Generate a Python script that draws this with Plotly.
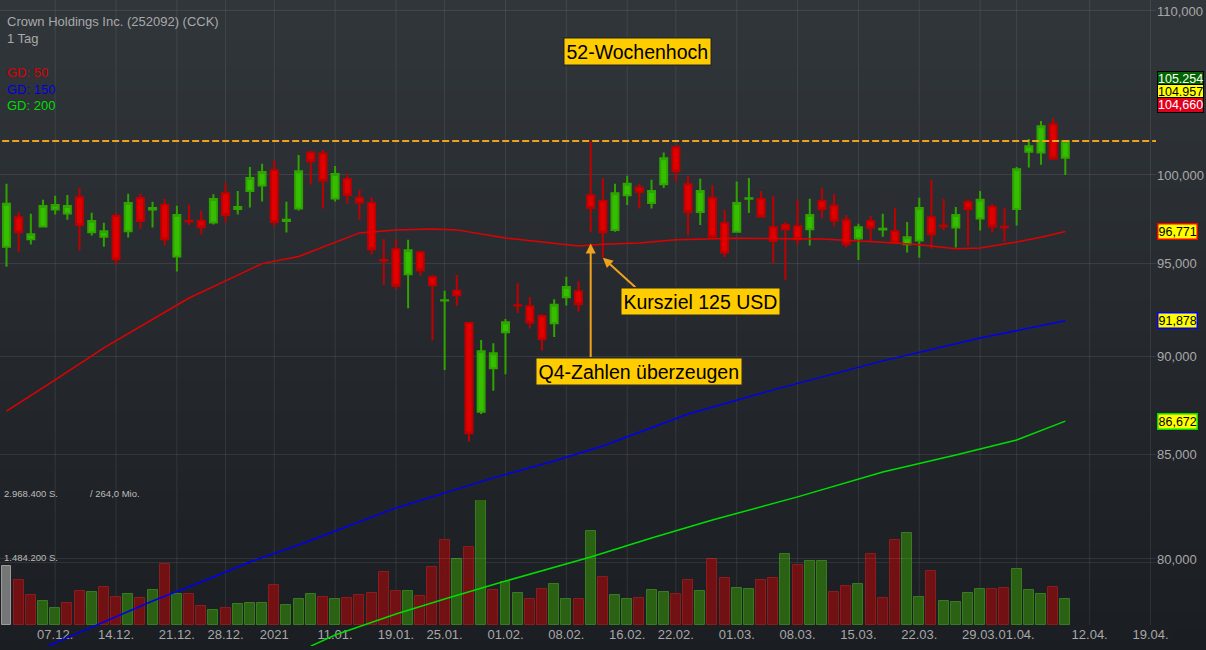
import math
import pandas as pd
import plotly.graph_objects as go

# ---------------- data ----------------
title_text = "Crown Holdings Inc. (252092) (CCK)"
interval_text = "1 Tag"
ma_labels = ["GD: 50", "GD: 150", "GD: 200"]

holidays = ["2020-12-25", "2021-01-01", "2021-01-18", "2021-02-15", "2021-04-02"]
trade_days = [d.strftime("%Y-%m-%d") for d in pd.bdate_range("2020-12-01", "2021-04-19")
              if d.strftime("%Y-%m-%d") not in holidays]

tick_dates = ["2020-12-07", "2020-12-14", "2020-12-21", "2020-12-28", "2021-01-04",
              "2021-01-11", "2021-01-19", "2021-01-25", "2021-02-01", "2021-02-08",
              "2021-02-16", "2021-02-22", "2021-03-01", "2021-03-08", "2021-03-15",
              "2021-03-22", "2021-03-29", "2021-04-01", "2021-04-12", "2021-04-19"]
tick_labels = ["07.12.", "14.12.", "21.12.", "28.12.", "2021", "11.01.", "19.01.", "25.01.",
               "01.02.", "08.02.", "16.02.", "22.02.", "01.03.", "08.03.", "15.03.", "22.03.",
               "29.03.", "01.04.", "12.04.", "19.04."]

price_ticks = [80, 85, 90, 95, 100, 110]

opens = [95.92, 97.58, 96.34, 97.05, 98.02, 97.79, 98.72, 96.73, 96.48, 97.64,
         96.79, 98.67, 98.02, 98.27, 95.37, 97.37, 97.37, 97.28, 98.95, 98.04,
         99.07, 99.39, 100.28, 97.36, 98.07, 101.32, 101.26, 98.64, 99.76, 98.67,
         98.38, 95.18, 95.78, 94.39, 95.61, 94.24, 92.96, 93.49, 91.76, 87.15,
         89.38, 91.27, 92.71, 92.66, 92.13, 91.75, 93.14, 93.47, 98.83, 98.50,
         96.86, 98.83, 99.27, 98.38, 99.47, 101.62, 99.47, 97.87, 98.67, 97.24,
         96.76, 98.63, 98.61, 97.01, 97.13, 97.07, 96.90, 98.50, 98.23, 97.41,
         96.37, 97.36, 96.88, 96.79, 96.06, 96.26, 97.58, 97.09, 96.99, 98.44,
         97.50, 98.15, 97.03, 98.04, 101.36, 101.32, 102.99, 101.00]
highs = [99.49, 97.89, 97.77, 98.57, 98.80, 98.85, 99.26, 97.83, 97.26, 97.81,
         98.91, 98.91, 98.46, 98.61, 98.23, 98.29, 97.94, 98.89, 99.53, 99.08,
         100.47, 100.65, 100.88, 98.46, 101.17, 101.40, 101.46, 100.53, 100.07, 99.14,
         98.72, 96.35, 96.35, 96.30, 95.68, 94.36, 93.49, 94.36, 91.81, 90.86,
         90.69, 91.97, 93.90, 93.15, 92.21, 93.03, 94.26, 94.01, 101.96, 99.82,
         99.49, 99.95, 99.49, 99.72, 101.32, 101.76, 99.95, 99.78, 99.41, 98.00,
         99.62, 99.82, 99.07, 98.80, 97.31, 98.57, 98.63, 99.26, 98.91, 97.70,
         97.20, 97.66, 97.77, 98.11, 97.31, 98.68, 99.72, 98.61, 98.15, 98.57,
         99.08, 98.34, 98.11, 100.47, 102.12, 103.19, 103.37, 101.98]
lows = [94.81, 95.64, 96.04, 96.99, 97.73, 97.43, 95.70, 96.54, 95.92, 94.92,
        96.43, 96.93, 96.99, 95.98, 94.54, 97.14, 96.60, 97.16, 97.28, 97.73,
        98.13, 98.47, 97.05, 96.71, 97.96, 99.45, 98.07, 98.47, 98.36, 97.43,
        95.48, 93.81, 93.58, 92.55, 94.31, 90.84, 89.29, 92.68, 85.65, 87.03,
        88.22, 89.07, 92.29, 91.46, 90.30, 91.01, 92.69, 92.37, 96.73, 95.31,
        96.76, 98.27, 98.07, 98.07, 99.24, 99.62, 96.56, 97.13, 96.35, 95.33,
        96.73, 97.81, 97.58, 95.00, 94.08, 96.02, 95.98, 97.50, 97.05, 95.87,
        95.18, 96.20, 96.48, 96.11, 95.59, 95.31, 95.81, 96.86, 95.87, 95.96,
        96.82, 96.71, 96.19, 97.11, 100.43, 100.59, 100.88, 100.00]
closes = [98.34, 96.73, 96.62, 98.21, 98.27, 98.21, 97.13, 97.36, 96.79, 95.22,
          98.38, 97.36, 98.10, 96.34, 97.70, 97.33, 97.01, 98.61, 97.70, 98.15,
          99.82, 100.17, 97.30, 97.43, 100.22, 100.80, 99.68, 100.05, 98.84, 98.42,
          95.78, 95.14, 93.77, 95.72, 94.61, 93.79, 92.98, 93.25, 86.07, 90.26,
          90.16, 91.80, 92.69, 91.78, 90.90, 92.73, 93.70, 92.76, 98.10, 96.73,
          98.95, 99.49, 99.01, 99.07, 100.98, 100.22, 97.87, 99.07, 96.48, 95.59,
          98.38, 98.66, 97.62, 96.24, 96.90, 96.34, 97.70, 98.04, 97.39, 96.06,
          97.01, 96.98, 96.92, 96.15, 96.45, 98.10, 96.62, 97.06, 97.70, 98.04,
          98.57, 97.05, 97.00, 100.34, 101.68, 102.87, 100.96, 101.98]
volumes = [1401000, 1068600, 705000, 562000, 403700, 530000, 800000, 783600, 895000, 657000,
           729000, 634000, 831000, 1441000, 729000, 729000, 444000, 356000, 411000, 499000,
           522000, 515000, 943000, 482000, 610000, 736000, 665000, 625000, 641000, 720000,
           760000, 1259000, 800000, 807000, 689000, 1370000, 2018000, 1574000, 1845000, 2968400,
           831000, 1028000, 767000, 610000, 848000, 974000, 625000, 610000, 2232000, 1147000,
           705000, 625000, 634000, 831000, 784000, 729000, 1076000, 807000, 1574000, 1109000,
           886000, 848000, 1061000, 1116000, 1679000, 1418000, 1520000, 1520000, 791000, 919000,
           966000, 1679000, 634000, 2018000, 2185000, 658000, 1289000, 570000, 546000, 753000,
           848000, 848000, 872000, 1323000, 831000, 729000, 895000, 617000]

ma50_day = [0, 4, 8, 12, 15, 18, 21, 24, 27, 29, 32, 35, 37, 41, 47, 49, 52, 55, 60, 67, 72, 75, 78, 80, 83, 85, 87]
ma50_val = [87.18, 88.77, 90.44, 91.97, 93.10, 94.03, 94.98, 95.37, 96.16, 96.69, 96.86, 96.91, 96.86,
            96.41, 95.96, 96.05, 96.13, 96.30, 96.39, 96.35, 96.16, 96.02, 95.80, 95.85, 96.18, 96.45, 96.771]
ma150_day = [3, 8, 12, 16, 20, 24, 32, 40, 45, 49, 56, 63, 72, 80, 87]
ma150_val = [75.96, 77.12, 78.07, 78.94, 79.86, 80.65, 82.41, 83.86, 84.69, 85.43, 87.03, 88.26, 89.76,
             90.96, 91.878]
ma200_day = [25, 27, 32, 36, 41, 48, 53, 58, 65, 72, 78, 83, 87]
ma200_val = [76.05, 76.54, 77.48, 78.16, 78.98, 80.09, 80.98, 81.83, 82.94, 84.15, 84.98, 85.73, 86.672]

high_52w = 102.0
quote_vals = [105.254, 104.957, 104.660]
quote_texts = ["105.254", "104.957", "104,660"]
turnover_text = "/ 264,0 Mio."
q4_day, q4_price = 48, 96.1
target_day = 49

# ---------------- styling ----------------
FONT = "Liberation Sans, Arial, sans-serif"
W, H = 1206, 650
ML, MR, MT, MB = 0, 50, 0, 4
PW, PH = W - ML - MR, H - MT - MB
vol_bottom_px, vol_top_px = 625, 500
GRID = "rgba(255,255,255,0.085)"
ORANGE = "#f0a21a"
BOXY = "#ffcc00"
top_c, bot_c = (49, 54, 59), (26, 29, 33)


def px_x(p):
    return (p - ML) / PW


def px_y(p):
    return (PH + MT - p) / PH


def de(v):
    return f"{v:.3f}".replace(".", ",")


n = len(closes)
xi = list(range(n))
tick_idx = [trade_days.index(d) for d in tick_dates]

vol_colors, vol_lines = [], []
for i in range(n):
    if i == 0:
        vol_colors.append("rgba(128,128,128,0.9)"); vol_lines.append("#9a9a9a")
    elif closes[i] >= closes[i - 1]:
        vol_colors.append("rgba(44,104,18,0.9)"); vol_lines.append("#387a22")
    else:
        vol_colors.append("rgba(124,16,18,0.9)"); vol_lines.append("#8c1c1c")

fig = go.Figure()

fig.add_trace(go.Bar(x=xi, y=volumes, width=0.82, xaxis="x", yaxis="y",
                     marker=dict(color=vol_colors, line=dict(color=vol_lines, width=1)),
                     hoverinfo="skip", showlegend=False))

fig.add_trace(go.Scatter(x=[-2, trade_days.index("2021-04-19") + 2], y=[high_52w, high_52w],
                         mode="lines", xaxis="x", yaxis="y2",
                         line=dict(color=ORANGE, width=2, dash="7px,3px"),
                         hoverinfo="skip", showlegend=False))

for days_, vals_, col in [(ma200_day, ma200_val, "#00dd00"), (ma150_day, ma150_val, "#0000ee"),
                          (ma50_day, ma50_val, "#e00000")]:
    fig.add_trace(go.Scatter(x=days_, y=vals_, mode="lines", xaxis="x", yaxis="y2",
                             line=dict(color=col, width=1.5), hoverinfo="skip", showlegend=False))

fig.add_trace(go.Candlestick(x=xi, open=opens, high=highs, low=lows, close=closes,
                             xaxis="x", yaxis="y2", whiskerwidth=0,
                             increasing=dict(fillcolor="#36bf00", line=dict(color="#2fa400", width=2)),
                             decreasing=dict(fillcolor="#e00000", line=dict(color="#c00000", width=2)),
                             hoverinfo="skip", showlegend=False))

shapes = []
nb = 65
for k in range(nb):
    t = (k + 0.5) / nb
    c = tuple(round(top_c[j] + (bot_c[j] - top_c[j]) * t) for j in range(3))
    y0p, y1p = k * H / nb, (k + 1) * H / nb
    shapes.append(dict(type="rect", xref="paper", yref="paper", layer="below",
                       x0=px_x(-2), x1=px_x(W + 4), y0=px_y(y1p + 0.5), y1=px_y(y0p),
                       line=dict(width=0), fillcolor="rgb(%d,%d,%d)" % c))
for ti in tick_idx:
    shapes.append(dict(type="line", xref="x", yref="paper", layer="below",
                       x0=ti, x1=ti, y0=px_y(vol_bottom_px), y1=1,
                       line=dict(color=GRID, width=1)))
for qv in (quote_vals[0], quote_vals[2]):
    shapes.append(dict(type="line", xref="paper", yref="y2", x0=px_x(PW - 4.5), x1=px_x(PW),
                       y0=math.log10(qv), y1=math.log10(qv), line=dict(color="#9a9a9a", width=1)))
# cover the bottom-right corner beyond the last tick label with the background tone
shapes.append(dict(type="rect", xref="paper", yref="paper", layer="above",
                   x0=px_x(1172), x1=px_x(W + 4), y0=px_y(H + 4), y1=px_y(628),
                   line=dict(width=0), fillcolor="rgb(%d,%d,%d)" % bot_c))

ann = []
ann.append(dict(text=title_text, x=px_x(5), y=px_y(21), xref="paper", yref="paper",
                xanchor="left", yanchor="middle", showarrow=False, font=dict(size=13, color="#a9a9a9")))
ann.append(dict(text=interval_text, x=px_x(5), y=px_y(38), xref="paper", yref="paper",
                xanchor="left", yanchor="middle", showarrow=False, font=dict(size=13, color="#a9a9a9")))
for lab, yy, col in zip(ma_labels, [73, 89, 105], ["#dd0000", "#0000dd", "#00dd00"]):
    ann.append(dict(text=lab, x=px_x(5), y=px_y(yy), xref="paper", yref="paper",
                    xanchor="left", yanchor="middle", showarrow=False, font=dict(size=13, color=col)))
vmax = max(volumes)
ann.append(dict(text=f"{vmax:,}".replace(",", ".") + " S.",
                x=px_x(2), y=px_y(494), xref="paper", yref="paper", xanchor="left", yanchor="middle",
                showarrow=False, font=dict(size=9.5, color="#bcbcbc")))
ann.append(dict(text=turnover_text,
                x=px_x(88), y=px_y(494), xref="paper", yref="paper", xanchor="left", yanchor="middle",
                showarrow=False, font=dict(size=9.5, color="#bcbcbc")))
ann.append(dict(text=f"{vmax // 2:,}".replace(",", ".") + " S.",
                x=px_x(2), y=px_y(557), xref="paper", yref="paper", xanchor="left", yanchor="middle",
                showarrow=False, font=dict(size=9.5, color="#bcbcbc")))

# arrows
ann.append(dict(text="", x=q4_day, y=math.log10(q4_price), xref="x", yref="y2",
                ax=0, ay=116, showarrow=True, arrowhead=2, arrowsize=1, arrowwidth=2,
                arrowcolor=ORANGE, standoff=0))
ann.append(dict(text="", x=target_day, y=math.log10(lows[target_day]), xref="x", yref="y2",
                ax=34, ay=31, showarrow=True, arrowhead=2, arrowsize=1, arrowwidth=2,
                arrowcolor=ORANGE, standoff=0))
# boxes
for txt, cx, cy in [("52-Wochenhoch", 637.5, 51), ("Kursziel 125 USD", 700, 301),
                    ("Q4-Zahlen überzeugen", 639, 371)]:
    ann.append(dict(text=txt, x=px_x(cx), y=px_y(cy), xref="paper", yref="paper",
                    xanchor="center", yanchor="middle", showarrow=False,
                    font=dict(size=19.5, color="#000000"), bgcolor=BOXY,
                    bordercolor="#2a2a2a", borderwidth=1.5, borderpad=2))

# right-side quote boxes
for txt, val, bg, fc, sh in [(quote_texts[0], quote_vals[1], "#006400", "#ffffff", 12.5),
                             (quote_texts[1], quote_vals[1], "#ffff00", "#000000", 0),
                             (quote_texts[2], quote_vals[1], "#e0001b", "#ffffff", -13)]:
    ann.append(dict(text=txt, x=px_x(PW + 0.7), y=math.log10(val), xref="paper", yref="y2",
                    xanchor="left", yanchor="middle", yshift=sh, showarrow=False,
                    font=dict(size=12.5, color=fc), bgcolor=bg, bordercolor="#000000",
                    borderwidth=1, borderpad=0))
for vals_, col in [(ma50_val, "#ff0000"), (ma150_val, "#0000ff"), (ma200_val, "#00dd00")]:
    v = vals_[-1]
    ann.append(dict(text=de(v), x=px_x(PW + 0.7), y=math.log10(v), xref="paper", yref="y2",
                    xanchor="left", yanchor="middle", showarrow=False,
                    font=dict(size=12.5, color="#000000"), bgcolor="#ffff00", bordercolor=col,
                    borderwidth=1.5, borderpad=0))

fig.update_layout(
    width=W, height=H, margin=dict(l=ML, r=MR, t=MT, b=MB, pad=0),
    paper_bgcolor="#1c1f23", plot_bgcolor="rgba(0,0,0,0)",
    font=dict(family=FONT, size=13, color="#a8a8a8"),
    showlegend=False, boxgap=0.18, bargap=0,
    xaxis=dict(domain=[0, 1], anchor="y", range=[-0.534, 94.45], tickmode="array",
               tickvals=tick_idx, ticktext=tick_labels, showgrid=False, zeroline=False,
               showline=False, ticks="", tickangle=0, rangeslider=dict(visible=False),
               tickfont=dict(size=13, color="#a8a8a8")),
    yaxis=dict(domain=[px_y(vol_bottom_px), px_y(vol_top_px)], anchor="x",
               range=[0, vmax * 1.001], tickmode="array", tickvals=[vmax / 2, vmax],
               showticklabels=False, gridcolor=GRID, zeroline=False, showline=False),
    yaxis2=dict(domain=[0, 1], anchor="x", side="right", type="log",
                range=[1.88113, 2.04416], tickmode="array", tickvals=price_ticks,
                ticktext=[de(v) for v in price_ticks], gridcolor=GRID, zeroline=False,
                showline=False, ticks="", tickfont=dict(size=13, color="#a8a8a8")),
    shapes=shapes, annotations=ann,
)

post_js = (
    "document.documentElement.style.overflow='hidden';"
    "document.documentElement.style.background='#1b1e22';"
    "document.body.style.margin='0';document.body.style.overflow='hidden';"
    "document.body.style.background='#1b1e22';"
    "var gd=document.getElementById('{plot_id}');"
    "gd.style.position='fixed';gd.style.left='0px';gd.style.top='0px';"
)
fig.write_html("out.html", config={"displayModeBar": False}, post_script=post_js)
